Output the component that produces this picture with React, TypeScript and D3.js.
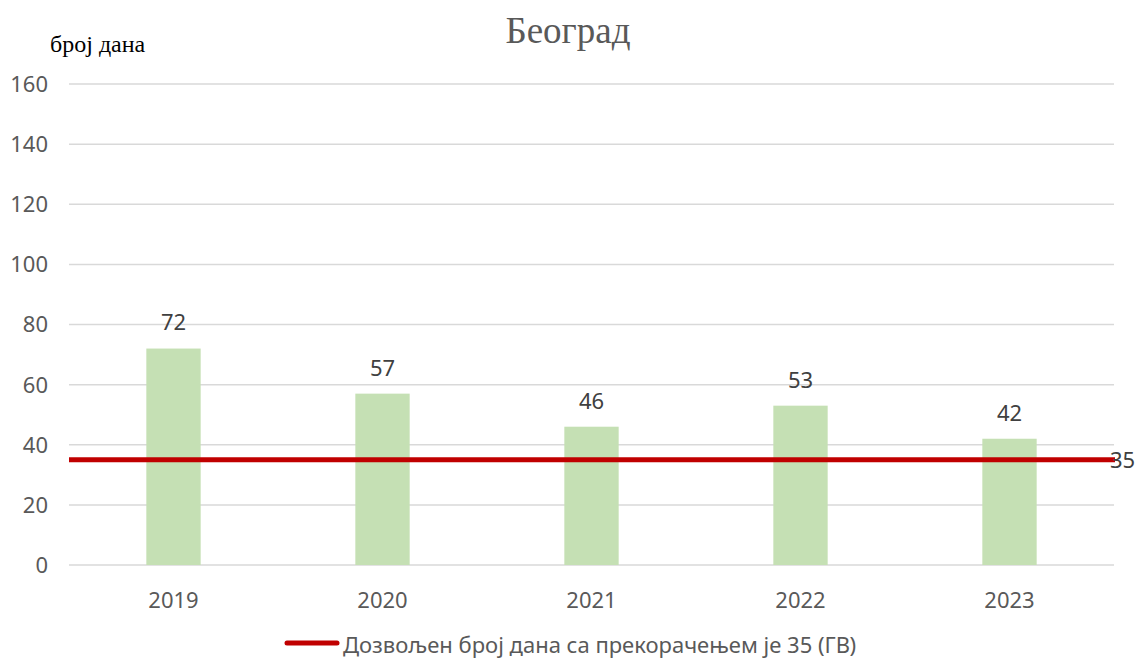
import React from 'react';
import * as d3 from 'd3';

const years = ['2019', '2020', '2021', '2022', '2023'];
const days = [72, 57, 46, 53, 42];
const limit = 35;
const yTicks = [0, 20, 40, 60, 80, 100, 120, 140, 160];
const legendLabel = 'Дозвољен број дана са прекорачењем је 35 (ГВ)';

const W = 1137;
const H = 662;
const sans = '"Noto Sans", sans-serif';
const serif = '"Liberation Serif", "DejaVu Serif", serif';

const App = () => {
  const margin = { top: 84, right: 23, bottom: 97, left: 69 };

  const x = d3.scaleBand<string>()
    .domain(years)
    .range([margin.left, W - margin.right])
    .paddingInner(0.74)
    .paddingOuter(0.37);

  const y = d3.scaleLinear()
    .domain([0, 160])
    .range([H - margin.bottom, margin.top]);

  const band = (W - margin.right - margin.left) / years.length;

  return (
    <svg width={W} height={H} style={{ position: 'absolute', left: 0, top: 0, background: '#fff' }}>
      <text x={568} y={43} textAnchor="middle" fontFamily={serif} fontSize={37} fill="#595959">Београд</text>
      <text x={50} y={52} fontFamily={serif} fontSize={24} fill="#000">број дана</text>

      {yTicks.map(t => (
        <g key={t}>
          <line x1={margin.left} x2={W - margin.right} y1={y(t)} y2={y(t)} stroke="#d9d9d9" strokeWidth={1.5} />
          <text x={48} y={y(t)} dy="0.36em" textAnchor="end" fontFamily={sans} fontSize={22} fill="#595959">{t}</text>
        </g>
      ))}

      {years.map((yr, i) => (
        <g key={yr}>
          <rect x={x(yr)} y={y(days[i])} width={x.bandwidth()} height={y(0) - y(days[i])} fill="#c5e0b4" />
          <text x={(x(yr) as number) + x.bandwidth() / 2} y={y(days[i]) - 26} dy="0.36em" textAnchor="middle"
            fontFamily={sans} fontSize={22} fill="#404040">{days[i]}</text>
          <text x={margin.left + band * i + band / 2} y={600} dy="0.36em" textAnchor="middle"
            fontFamily={sans} fontSize={22} fill="#595959">{yr}</text>
        </g>
      ))}

      <line x1={margin.left} x2={W - margin.right + 1} y1={y(limit)} y2={y(limit)} stroke="#c00000" strokeWidth={5} />
      <text x={1110} y={y(limit)} dy="0.36em" fontFamily={sans} fontSize={22} fill="#404040">{limit}</text>

      <line x1={287} x2={337} y1={643} y2={643} stroke="#c00000" strokeWidth={5} strokeLinecap="round" />
      <text x={343} y={645} dy="0.36em" fontFamily={sans} fontSize={22} fill="#595959">{legendLabel}</text>
    </svg>
  );
};

export default App;
